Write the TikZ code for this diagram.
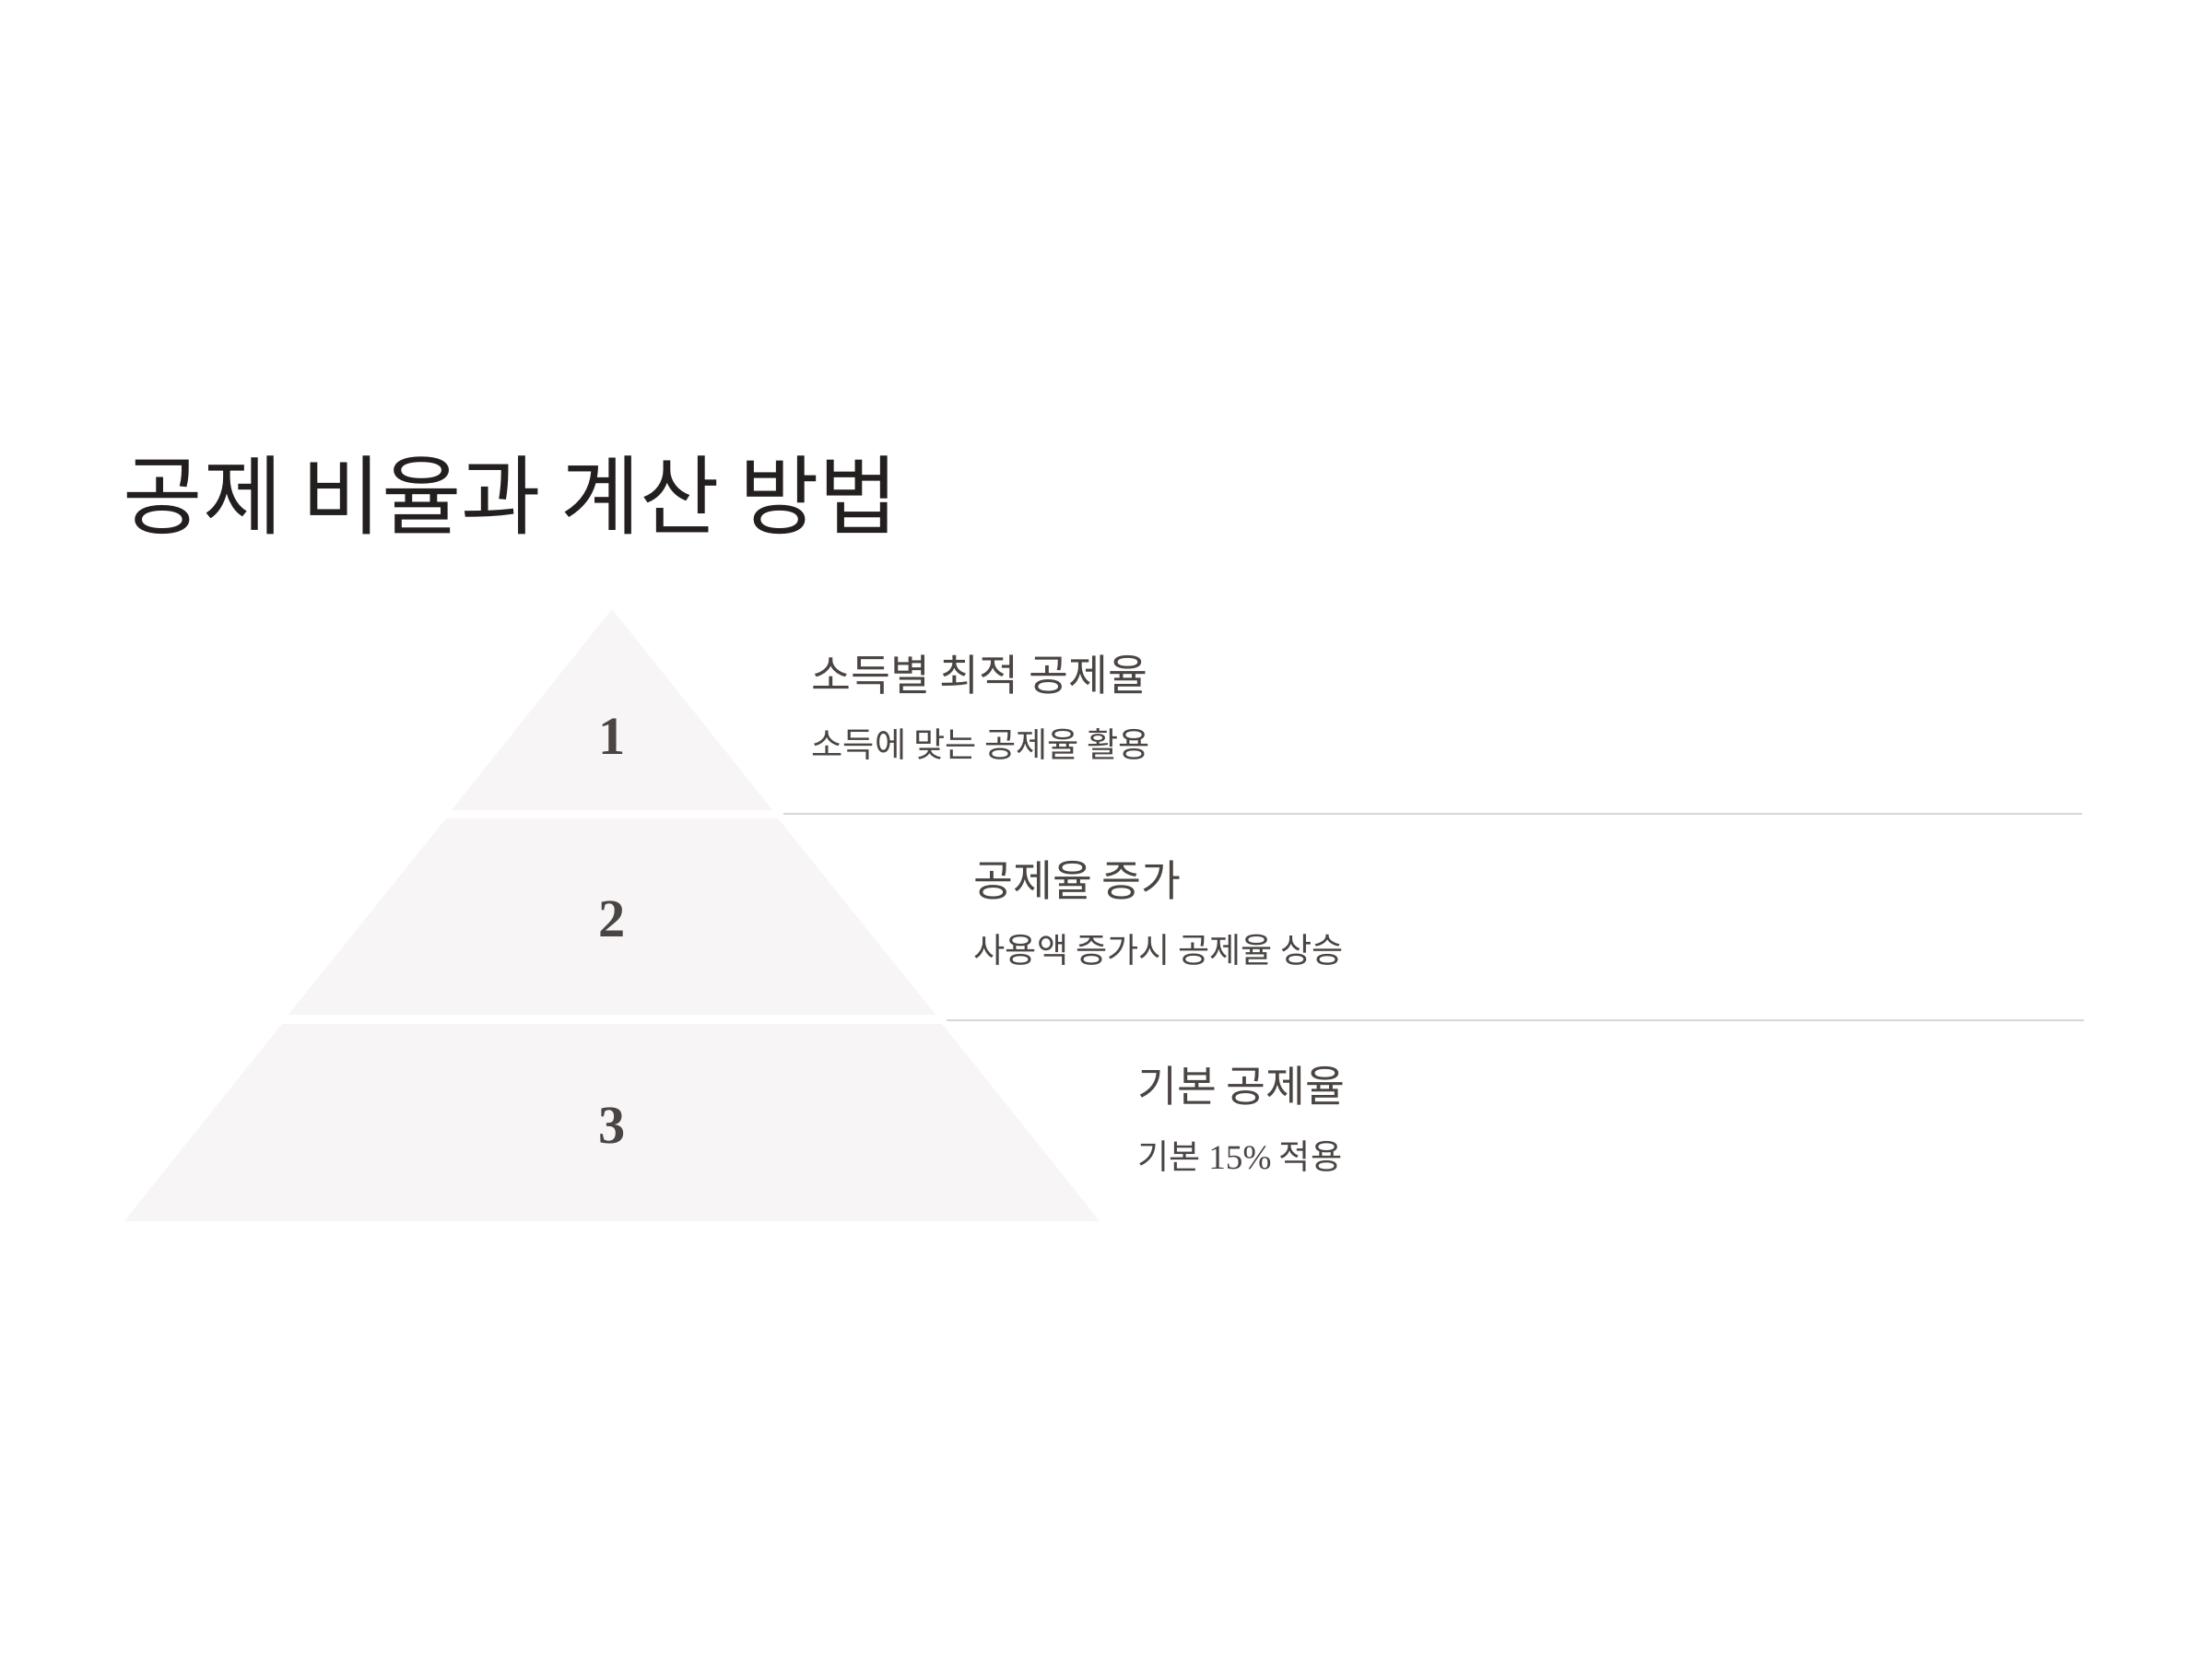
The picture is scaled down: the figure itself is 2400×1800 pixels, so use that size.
\documentclass[tikz,border=0pt]{standalone}
\usepackage{fontspec}
\setmainfont{Liberation Serif}
\newfontfamily\kr{Noto Sans CJK KR}
\usepackage{tikz}

\definecolor{titleink}{HTML}{231F1E}
\definecolor{bodyink}{HTML}{4A4543}
\definecolor{tierfill}{HTML}{F7F5F5}
\definecolor{rulegray}{HTML}{D8D5D5}

\tikzset{
  tier/.style={fill=tierfill, draw=none},
  tiernum/.style={inner sep=0.75pt, text=bodyink, font=\fontsize{17.5}{20}\selectfont\bfseries},
  headtext/.style={anchor=west, inner sep=0pt, text=bodyink, font=\kr\fontsize{14}{17}\selectfont},
  subtext/.style={anchor=west, inner sep=0pt, text=bodyink, font=\kr\fontsize{11.15}{14}\selectfont},
  sepline/.style={draw=rulegray, line width=0.8pt}
}

\begin{document}
\begin{tikzpicture}[x=0.3pt,y=0.3pt,yscale=-1,xscale=1]
        %set diagram: 2400 x 1800
        \path[use as bounding box, fill=white] (0,0) rectangle (2400,1800);

        % Title Node
        \node (title) [anchor=west, inner sep=0pt, text=titleink, font=\kr\fontsize{28.2}{33}\selectfont] at (133,537) {공제 비율과 계산 방법};

        %Shape: Tier 1
        \fill[tier] (664,661) -- (838,879) -- (490,879) -- cycle;
        %Shape: Tier 2
        \fill[tier] (484,888) -- (844,888) -- (1015,1101) -- (313,1101) -- cycle;
        %Shape: Tier 3
        \fill[tier] (306,1111) -- (1022,1111) -- (1193,1325) -- (135,1325) -- cycle;

        %Straight Lines
        \coordinate (rulea-l) at (850,883);
        \coordinate (rulea-r) at (2259,883);
        \coordinate (ruleb-l) at (1027,1107);
        \coordinate (ruleb-r) at (2261,1107);
        \draw[sepline] (rulea-l) -- (rulea-r);
        \draw[sepline] (ruleb-l) -- (ruleb-r);

        % Number Nodes
        \node (numa) [tiernum] at (664,799) {1};
        \node (numb) [tiernum] at (664,997) {2};
        \node (numc) [tiernum] at (664,1221) {3};

        % Text Node
        \node (heada) [headtext] at (880,732) {소득별 최적 공제율};
        \node (suba) [subtext] at (880,807) {소득에 맞는 공제율 활용};
        % Text Node
        \node (headb) [headtext] at (1056,955) {공제율 증가};
        \node (subb) [subtext] at (1056,1031) {사용액 증가시 공제율 상승};
        % Text Node
        \node (headc) [headtext] at (1234,1178) {기본 공제율};
        \node (subc) [subtext] at (1234,1255) {기본 {\rmfamily 15\%} 적용};

    \end{tikzpicture}
\end{document}
